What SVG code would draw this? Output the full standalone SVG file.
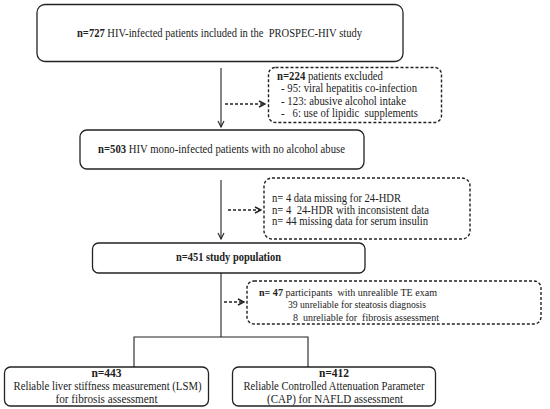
<svg xmlns="http://www.w3.org/2000/svg" width="550" height="409" viewBox="0 0 550 409">
<defs>
<style>
text{font-family:"Liberation Serif","Times New Roman",serif;font-size:11.5px;fill:#222;white-space:pre}
.b{font-weight:bold}
.m{text-anchor:middle}
.s{font-size:10.5px}
.box{fill:#fff;stroke:#222;stroke-width:1.3}
.dbox{fill:#fff;stroke:#222;stroke-width:1.4;stroke-dasharray:3 2}
.ln{stroke:#222;stroke-width:1.1;fill:none}
.dl{stroke:#222;stroke-width:1.3;fill:none;stroke-dasharray:3 2}
</style>
<marker id="ah" markerWidth="8" markerHeight="8" refX="7" refY="4" orient="auto" markerUnits="userSpaceOnUse">
<path d="M1,1 L7,4 L1,7" fill="none" stroke="#222" stroke-width="1.1"/>
</marker>
<marker id="dah" markerWidth="8" markerHeight="8" refX="7" refY="4" orient="auto" markerUnits="userSpaceOnUse">
<path d="M1,1 L7,4 L1,7" fill="none" stroke="#222" stroke-width="1.5"/>
</marker>
</defs>
<rect width="550" height="409" fill="#fff"/>
<g id="connectors">
<line class="ln" x1="221" y1="68" x2="221" y2="127" marker-end="url(#ah)"/>
<line class="dl" x1="225" y1="104" x2="265" y2="104" marker-end="url(#dah)"/>
<line class="ln" x1="221" y1="180" x2="221" y2="239" marker-end="url(#ah)"/>
<line class="dl" x1="228" y1="210" x2="261" y2="210" marker-end="url(#dah)"/>
<polyline class="ln" points="221,273 221,337"/>
<line class="dl" x1="224" y1="302" x2="244" y2="302" marker-end="url(#dah)"/>
<polyline class="ln" points="134,367 134,337 308,337 308,367"/>
</g>
<g id="n727">
<rect class="box" x="37" y="4.5" width="366" height="57" rx="8"/>
<text x="77" y="37" textLength="285" lengthAdjust="spacingAndGlyphs"><tspan class="b">n=727</tspan> HIV-infected patients included in the  PROSPEC-HIV study</text>
</g>
<g id="excl224">
<rect class="dbox" x="268.5" y="67.5" width="173" height="55" rx="7"/>
<text x="277" y="79.5" textLength="106" lengthAdjust="spacingAndGlyphs"><tspan class="b">n=224</tspan> patients excluded</text>
<text x="281" y="92" textLength="136" lengthAdjust="spacingAndGlyphs">- 95: viral hepatitis co-infection</text>
<text x="281" y="104.5" textLength="125" lengthAdjust="spacingAndGlyphs">- 123: abusive alcohol intake</text>
<text x="281" y="117" textLength="137" lengthAdjust="spacingAndGlyphs">-   6: use of lipidic  supplements</text>
</g>
<g id="n503">
<rect class="box" x="80" y="130" width="284" height="39" rx="7"/>
<text x="98" y="153" textLength="247" lengthAdjust="spacingAndGlyphs"><tspan class="b">n=503</tspan> HIV mono-infected patients with no alcohol abuse</text>
</g>
<g id="excl52">
<rect class="dbox" x="264" y="178" width="206" height="61" rx="8"/>
<text x="272" y="202" textLength="129" lengthAdjust="spacingAndGlyphs">n= 4 data missing for 24-HDR</text>
<text x="272" y="213.5" textLength="157" lengthAdjust="spacingAndGlyphs">n= 4  24-HDR with inconsistent data</text>
<text x="272" y="225" textLength="156" lengthAdjust="spacingAndGlyphs">n= 44 missing data for serum insulin</text>
</g>
<g id="n451">
<rect class="box" x="92.5" y="243" width="272.5" height="30" rx="6"/>
<text x="176" y="261" class="b" textLength="105" lengthAdjust="spacingAndGlyphs">n=451 study population</text>
</g>
<g id="excl47">
<rect class="dbox" x="247" y="281" width="294" height="43" rx="7"/>
<text x="259" y="295.5" class="s" textLength="178" lengthAdjust="spacingAndGlyphs"><tspan class="b">n= 47</tspan> participants  with unrealible TE exam</text>
<text x="288" y="308" class="s" textLength="138" lengthAdjust="spacingAndGlyphs">39 unreliable for steatosis diagnosis</text>
<text x="293" y="320.5" class="s" textLength="146" lengthAdjust="spacingAndGlyphs">8  unreliable for  fibrosis assessment</text>
</g>
<g id="n443">
<rect class="box" x="4.5" y="367" width="204" height="39" rx="6"/>
<text x="106.5" y="377" class="b m">n=443</text>
<text x="107.5" y="390" class="m" textLength="188" lengthAdjust="spacingAndGlyphs">Reliable liver stiffness measurement (LSM)</text>
<text x="106.5" y="402.5" class="m" textLength="102" lengthAdjust="spacingAndGlyphs">for fibrosis assessment</text>
</g>
<g id="n412">
<rect class="box" x="232.5" y="367" width="203" height="39" rx="6"/>
<text x="334" y="377" class="b m">n=412</text>
<text x="334" y="390" class="m" textLength="181" lengthAdjust="spacingAndGlyphs">Reliable Controlled Attenuation Parameter</text>
<text x="335" y="402.5" class="m" textLength="136" lengthAdjust="spacingAndGlyphs">(CAP) for NAFLD assessment</text>
</g>
</svg>
